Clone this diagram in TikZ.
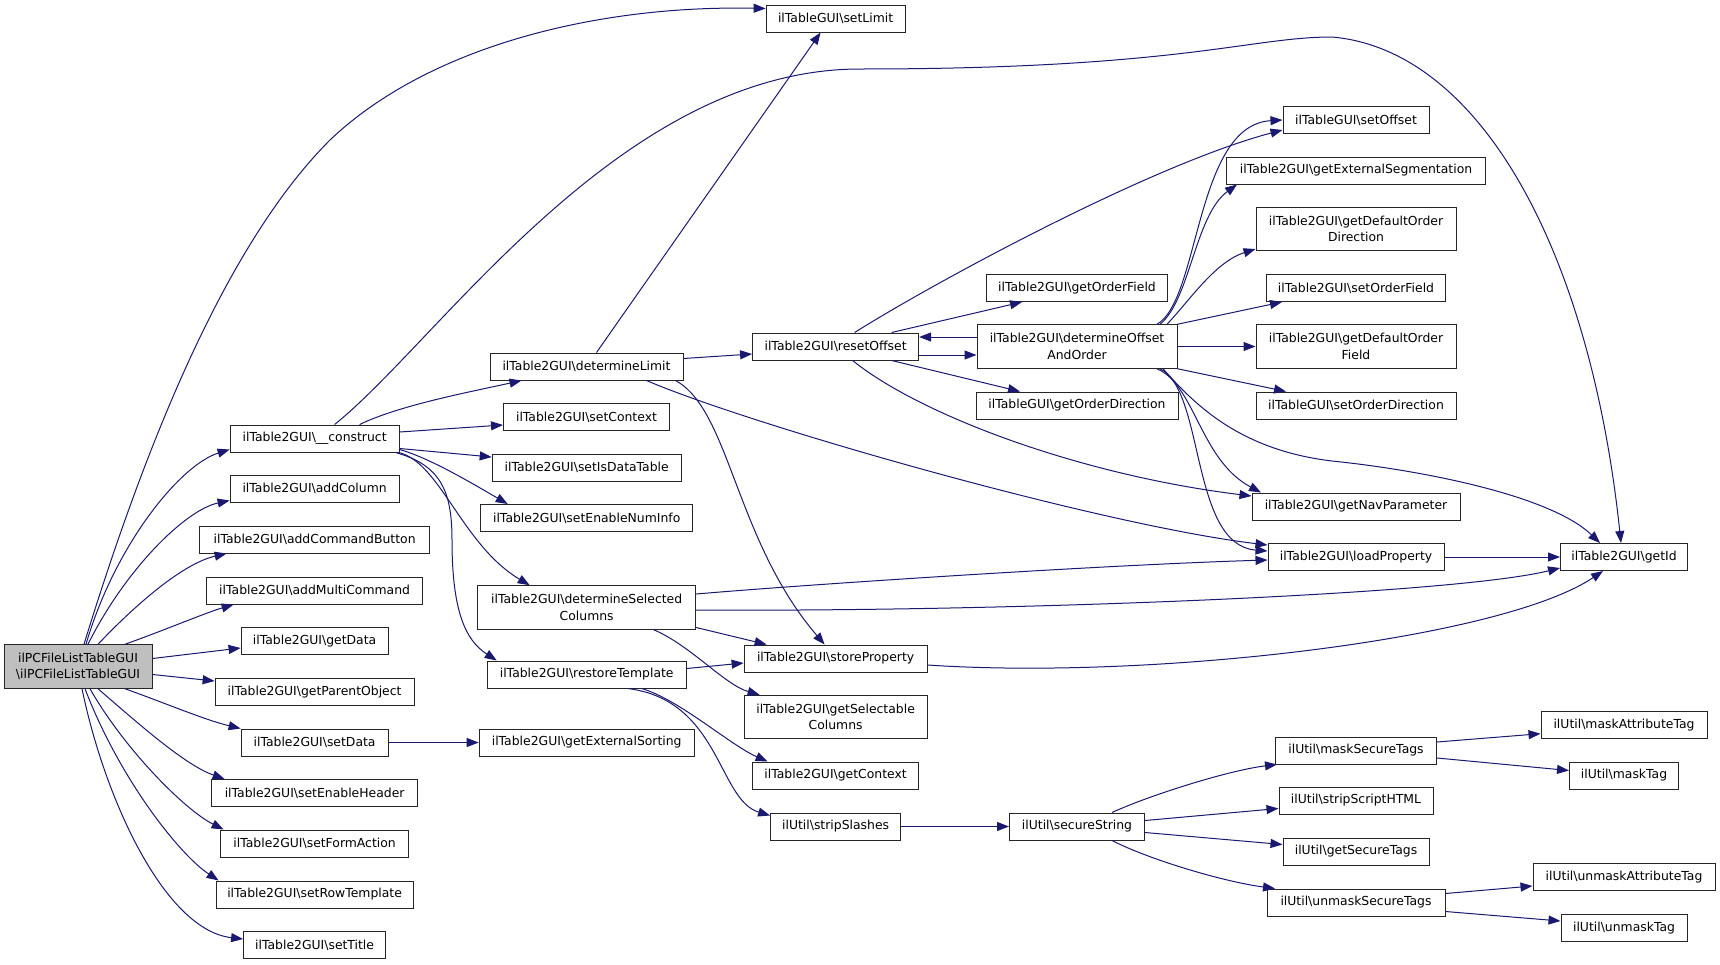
\documentclass[tikz,border=0pt]{standalone}
\usepackage{fontspec}
\setmainfont{DejaVu Sans}
\usepackage{tikz}
\usetikzlibrary{arrows.meta}
\definecolor{edgeblue}{RGB}{25,25,112}
\definecolor{nodegray}{RGB}{191,191,191}

\begin{document}
\begin{tikzpicture}[x=1pt,y=-1pt,
        fn/.style={draw=black!85,line width=1pt,inner xsep=2pt,inner ysep=0pt,minimum height=27pt,align=center,font=\fontsize{12.4}{16.5}\selectfont},
        fntwo/.style={fn,minimum height=43.5pt},
        call/.style={draw=edgeblue,line width=1pt,-{Triangle[length=12pt,width=9pt]}}]
    \useasboundingbox (0,0) rectangle (1720,964);

    \node[fntwo,fill=nodegray,minimum width=148pt] (main) at (78,666.5) {ilPCFileListTableGUI\\\textbackslash ilPCFileListTableGUI};

    % first column
    \node[fn,minimum width=169pt] (construct) at (314.6,438.5) {ilTable2GUI\textbackslash\_\_construct};
    \node[fn,minimum width=169pt] (addColumn) at (314.6,488.5) {ilTable2GUI\textbackslash addColumn};
    \node[fn,minimum width=230pt] (addCmdButton) at (314.6,539.5) {ilTable2GUI\textbackslash addCommandButton};
    \node[fn,minimum width=216pt] (addMultiCmd) at (314.6,590.5) {ilTable2GUI\textbackslash addMultiCommand};
    \node[fn,minimum width=147pt] (getData) at (314.6,641) {ilTable2GUI\textbackslash getData};
    \node[fn,minimum width=199pt] (getParentObject) at (314.6,692) {ilTable2GUI\textbackslash getParentObject};
    \node[fn,minimum width=147pt] (setData) at (314.6,742.5) {ilTable2GUI\textbackslash setData};
    \node[fn,minimum width=206pt] (setEnableHeader) at (314.6,793) {ilTable2GUI\textbackslash setEnableHeader};
    \node[fn,minimum width=188pt] (setFormAction) at (314.6,843.5) {ilTable2GUI\textbackslash setFormAction};
    \node[fn,minimum width=197pt] (setRowTemplate) at (314.6,894.5) {ilTable2GUI\textbackslash setRowTemplate};
    \node[fn,minimum width=142pt] (setTitle) at (314.6,945) {ilTable2GUI\textbackslash setTitle};

    % second column
    \node[fn,minimum width=193pt] (determineLimit) at (586.5,366.5) {ilTable2GUI\textbackslash determineLimit};
    \node[fn,minimum width=166pt] (setContext) at (586.5,417) {ilTable2GUI\textbackslash setContext};
    \node[fn,minimum width=189pt] (setIsDataTable) at (586.7,467.5) {ilTable2GUI\textbackslash setIsDataTable};
    \node[fn,minimum width=212pt] (setEnableNumInfo) at (586.7,518) {ilTable2GUI\textbackslash setEnableNumInfo};
    \node[fntwo,minimum width=218pt] (detSelColumns) at (586.7,607.5) {ilTable2GUI\textbackslash determineSelected\\Columns};
    \node[fn,minimum width=199pt] (restoreTemplate) at (586.7,674.5) {ilTable2GUI\textbackslash restoreTemplate};
    \node[fn,minimum width=215pt] (getExtSorting) at (586.7,742.5) {ilTable2GUI\textbackslash getExternalSorting};

    % third column
    \node[fn,minimum width=139pt] (setLimit) at (835.6,18.5) {ilTableGUI\textbackslash setLimit};
    \node[fn,minimum width=166pt] (resetOffset) at (835.6,346.5) {ilTable2GUI\textbackslash resetOffset};
    \node[fn,minimum width=183pt] (storeProperty) at (835.6,658.5) {ilTable2GUI\textbackslash storeProperty};
    \node[fntwo,minimum width=183pt] (getSelColumns) at (835.6,717) {ilTable2GUI\textbackslash getSelectable\\Columns};
    \node[fn,minimum width=166pt] (getContext) at (835.6,775.5) {ilTable2GUI\textbackslash getContext};
    \node[fn,minimum width=130pt] (stripSlashes) at (835.6,826.5) {ilUtil\textbackslash stripSlashes};

    % fourth column
    \node[fn,minimum width=181pt] (getOrderField) at (1077,288) {ilTable2GUI\textbackslash getOrderField};
    \node[fntwo,minimum width=200pt] (detOffsetOrder) at (1077,346.5) {ilTable2GUI\textbackslash determineOffset\\AndOrder};
    \node[fn,minimum width=202pt] (getOrderDir) at (1077,405.5) {ilTableGUI\textbackslash getOrderDirection};
    \node[fn,minimum width=135pt] (secureString) at (1077,826.5) {ilUtil\textbackslash secureString};

    % fifth column
    \node[fn,minimum width=146pt] (setOffset) at (1356,120) {ilTableGUI\textbackslash setOffset};
    \node[fn,minimum width=259pt] (getExtSegment) at (1356,170.5) {ilTable2GUI\textbackslash getExternalSegmentation};
    \node[fntwo,minimum width=200pt] (getDefOrderDir) at (1356,229) {ilTable2GUI\textbackslash getDefaultOrder\\Direction};
    \node[fn,minimum width=179pt] (setOrderField) at (1356,288) {ilTable2GUI\textbackslash setOrderField};
    \node[fntwo,minimum width=200pt] (getDefOrderField) at (1356,346.5) {ilTable2GUI\textbackslash getDefaultOrder\\Field};
    \node[fn,minimum width=200pt] (setOrderDir) at (1356,405.5) {ilTableGUI\textbackslash setOrderDirection};
    \node[fn,minimum width=208pt] (getNavParameter) at (1356,506.5) {ilTable2GUI\textbackslash getNavParameter};
    \node[fn,minimum width=176pt] (loadProperty) at (1356,557) {ilTable2GUI\textbackslash loadProperty};
    \node[fn,minimum width=161pt] (maskSecureTags) at (1356,750.5) {ilUtil\textbackslash maskSecureTags};
    \node[fn,minimum width=154pt] (stripScriptHTML) at (1356,800.5) {ilUtil\textbackslash stripScriptHTML};
    \node[fn,minimum width=146pt] (getSecureTags) at (1356,851.5) {ilUtil\textbackslash getSecureTags};
    \node[fn,minimum width=178pt] (unmaskSecureTags) at (1356,902.5) {ilUtil\textbackslash unmaskSecureTags};

    % last column
    \node[fn,minimum width=127pt] (getId) at (1624,557) {ilTable2GUI\textbackslash getId};
    \node[fn,minimum width=166pt] (maskAttributeTag) at (1624,725) {ilUtil\textbackslash maskAttributeTag};
    \node[fn,minimum width=109pt] (maskTag) at (1624,775.5) {ilUtil\textbackslash maskTag};
    \node[fn,minimum width=182pt] (unmaskAttributeTag) at (1624,877) {ilUtil\textbackslash unmaskAttributeTag};
    \node[fn,minimum width=126pt] (unmaskTag) at (1624,928) {ilUtil\textbackslash unmaskTag};

    % calls from the main class
    \draw[call] ([xshift=6pt]main.north) .. controls (150,430) and (230,240) .. (330,140) .. controls (430,45) and (600,5) .. ([yshift=10pt]setLimit.west);
    \draw[call] ([xshift=8pt]main.north) .. controls (115,545) and (180,465) .. ([yshift=-11pt]construct.west);
    \draw[call] ([xshift=10pt]main.north) .. controls (125,570) and (185,510) .. ([yshift=-12pt]addColumn.west);
    \draw[call] ([xshift=20pt]main.north) .. controls (140,600) and (185,563) .. ([xshift=-88pt]addCmdButton.south);
    \draw[call] ([xshift=47pt]main.north) .. controls (165,630) and (205,613) .. ([xshift=-81pt]addMultiCmd.south);
    \draw[call] ([yshift=8pt]main.east) -- ([yshift=-7pt]getData.west);
    \draw[call] ([yshift=-8pt]main.east) -- ([yshift=11pt]getParentObject.west);
    \draw[call] ([xshift=47pt]main.south) .. controls (165,703) and (205,720) .. (setData.north west);
    \draw[call] ([xshift=20pt]main.south) .. controls (140,725) and (185,765) .. ([xshift=-90pt]setEnableHeader.north);
    \draw[call] ([xshift=12pt]main.south) .. controls (125,750) and (185,810) .. ([xshift=-91pt]setFormAction.north);
    \draw[call] ([xshift=7pt]main.south) .. controls (120,780) and (180,855) .. ([xshift=-96pt]setRowTemplate.north);
    \draw[call] ([xshift=4pt]main.south) .. controls (105,800) and (165,930) .. ([yshift=6pt]setTitle.west);

    \draw[call] (setData) -- (getExtSorting);

    % __construct
    \draw[call] ([xshift=20pt]construct.north) .. controls (440,340) and (620,69) .. (860,69) .. controls (1180,69) and (1250,37) .. (1332,37) .. controls (1480,50) and (1590,250) .. ([xshift=-3pt]getId.north);
    \draw[call] ([xshift=45pt]construct.north) .. controls (400,405) and (470,392) .. ([xshift=-65pt]determineLimit.south);
    \draw[call] ([yshift=6.5pt]construct.east) -- ([yshift=-8pt]setContext.west);
    \draw[call] ([yshift=-10pt]construct.east) -- ([yshift=10.5pt]setIsDataTable.west);
    \draw[call] ([yshift=-11pt]construct.east) .. controls (430,458) and (475,485) .. ([xshift=-79pt]setEnableNumInfo.north);
    \draw[call] ([xshift=-1pt]construct.south east) .. controls (440,462) and (462,545) .. ([xshift=-57pt]detSelColumns.north);
    \draw[call] ([xshift=-4pt]construct.south east) .. controls (440,465) and (452,490) .. (452,540) .. controls (452,610) and (465,640) .. ([xshift=-90pt]restoreTemplate.north);

    % determineLimit
    \draw[call] ([xshift=10pt]determineLimit.north) -- ([xshift=-15pt]setLimit.south);
    \draw[call] ([yshift=8pt]determineLimit.east) -- ([yshift=-7.5pt]resetOffset.west);
    \draw[call] ([xshift=-8pt]determineLimit.south east) .. controls (730,410) and (735,540) .. ([xshift=-11pt]storeProperty.north);
    \draw[call] ([xshift=60pt]determineLimit.south) .. controls (750,425) and (1100,525) .. ([yshift=12pt]loadProperty.west);

    % resetOffset
    \draw[call] ([yshift=-8.5pt]resetOffset.east) -- ([yshift=-8.5pt]detOffsetOrder.west);
    \draw[call] ([yshift=9.5pt]detOffsetOrder.west) -- ([yshift=9.5pt]resetOffset.east);
    \draw[call] ([xshift=56pt]resetOffset.north) -- ([xshift=-55pt]getOrderField.south);
    \draw[call] ([xshift=56pt]resetOffset.south) -- ([xshift=-57pt]getOrderDir.north);
    \draw[call] ([xshift=19pt]resetOffset.north) .. controls (930,285) and (1150,165) .. ([yshift=-10pt]setOffset.west);
    \draw[call] ([xshift=17pt]resetOffset.south) .. controls (920,415) and (1080,475) .. ([yshift=10.5pt]getNavParameter.west);

    % determineOffsetAndOrder
    \draw[call] ([xshift=80pt]detOffsetOrder.north) .. controls (1200,300) and (1195,125) .. (setOffset.west);
    \draw[call] ([xshift=83pt]detOffsetOrder.north) .. controls (1190,300) and (1195,215) .. ([xshift=-119pt]getExtSegment.south);
    \draw[call] ([xshift=90pt]detOffsetOrder.north) .. controls (1190,300) and (1215,262) .. ([yshift=-20pt]getDefOrderDir.west);
    \draw[call] (detOffsetOrder.north east) -- ([xshift=-74pt]setOrderField.south);
    \draw[call] (detOffsetOrder) -- (getDefOrderField);
    \draw[call] (detOffsetOrder.south east) -- ([xshift=-70pt]setOrderDir.north);
    \draw[call] ([xshift=80pt]detOffsetOrder.south) .. controls (1195,385) and (1200,460) .. ([xshift=-95pt]getNavParameter.north);
    \draw[call] ([xshift=83pt]detOffsetOrder.south) .. controls (1205,390) and (1190,545) .. ([yshift=6pt]loadProperty.west);
    \draw[call] ([xshift=86pt]detOffsetOrder.south) .. controls (1195,405) and (1240,450) .. (1332,461) .. controls (1420,470) and (1550,495) .. ([xshift=-24pt]getId.north);

    % determineSelectedColumns
    \draw[call] ([yshift=13.5pt]detSelColumns.east) .. controls (800,585) and (1100,565) .. ([yshift=-3pt]loadProperty.west);
    \draw[call] ([yshift=-2.5pt]detSelColumns.east) .. controls (1000,612) and (1450,595) .. ([yshift=3pt]getId.south west);
    \draw[call] ([yshift=-20pt]detSelColumns.east) -- ([xshift=-69pt]storeProperty.north);
    \draw[call] ([xshift=67pt]detSelColumns.south) .. controls (690,645) and (725,685) .. ([xshift=-76pt]getSelColumns.north);

    % restoreTemplate
    \draw[call] ([yshift=6pt]restoreTemplate.east) -- ([yshift=-4.5pt]storeProperty.west);
    \draw[call] ([xshift=55pt]restoreTemplate.south) .. controls (680,700) and (730,745) .. ([xshift=-68pt]getContext.north);
    \draw[call] ([xshift=41pt]restoreTemplate.south) .. controls (720,700) and (718,800) .. ([yshift=11pt]stripSlashes.west);

    % properties
    \draw[call] ([yshift=-6.5pt]storeProperty.east) .. controls (1150,680) and (1500,640) .. ([xshift=-21pt]getId.south);
    \draw[call] (loadProperty) -- (getId);

    % string helpers
    \draw[call] (stripSlashes) -- (secureString);
    \draw[call] ([xshift=35pt]secureString.north) .. controls (1150,795) and (1230,770) .. ([xshift=-79pt]maskSecureTags.south);
    \draw[call] ([yshift=6pt]secureString.east) -- ([yshift=-8pt]stripScriptHTML.west);
    \draw[call] ([yshift=-6pt]secureString.east) -- ([yshift=7pt]getSecureTags.west);
    \draw[call] ([xshift=35pt]secureString.south) .. controls (1150,860) and (1225,882) .. ([xshift=-81pt]unmaskSecureTags.north);
    \draw[call] ([yshift=8.5pt]maskSecureTags.east) -- ([yshift=-8.7pt]maskAttributeTag.west);
    \draw[call] ([yshift=-7.5pt]maskSecureTags.east) -- ([yshift=5pt]maskTag.west);
    \draw[call] ([yshift=9pt]unmaskSecureTags.east) -- ([yshift=-9pt]unmaskAttributeTag.west);
    \draw[call] ([yshift=-9pt]unmaskSecureTags.east) -- ([yshift=7pt]unmaskTag.west);
\end{tikzpicture}
\end{document}
